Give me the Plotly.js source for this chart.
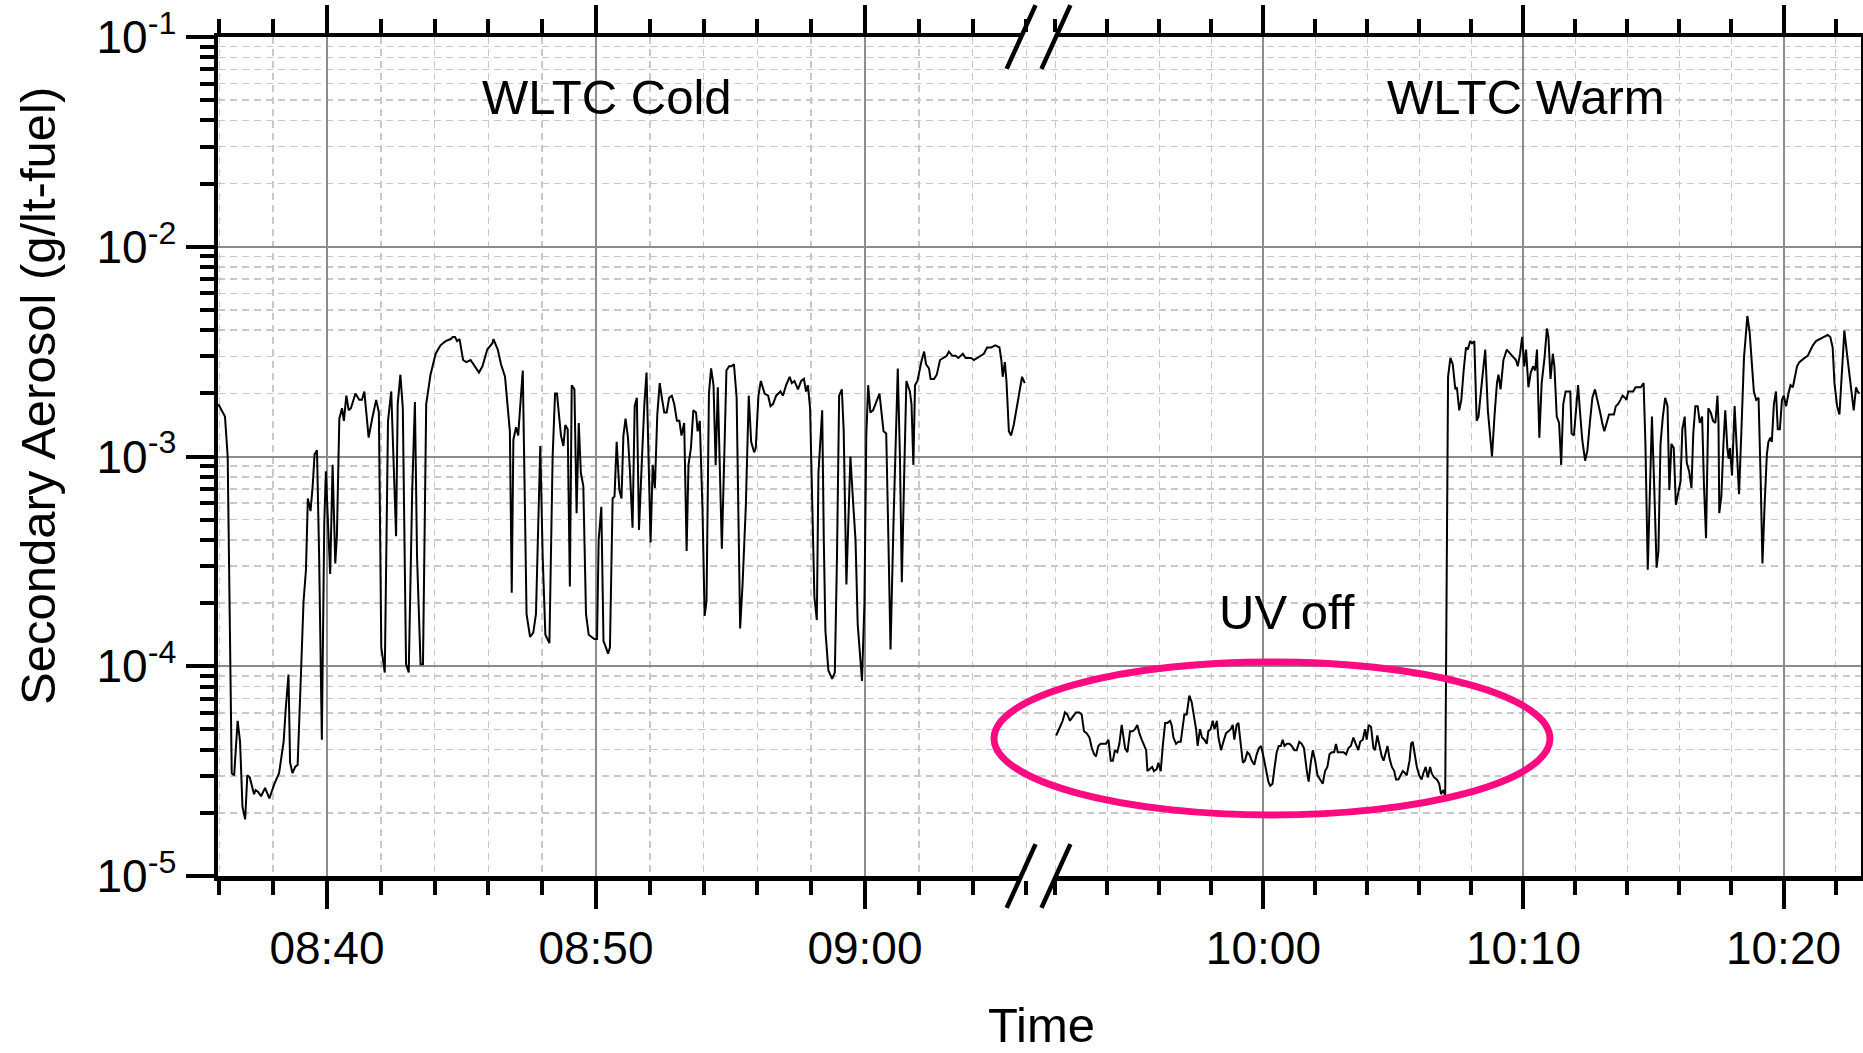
<!DOCTYPE html>
<html>
<head>
<meta charset="utf-8">
<script src="https://cdn.plot.ly/plotly-3.0.1.min.js"></script>
<style>
  html, body { margin: 0; padding: 0; background: #fff; overflow: hidden; }
</style>
</head>
<body>
<div id="myDiv" style="width:1863px;height:1053px;"></div>
<script>
  // time in minutes after 08:00, values as log10 of g/lt-fuel
  var coldTime = [
    35.96, 36.21, 36.31, 36.40, 36.46, 36.55, 36.68, 36.77, 36.86, 36.96,
    37.04, 37.13, 37.29, 37.35, 37.45, 37.55, 37.70, 37.86, 38.05, 38.22,
    38.39, 38.47, 38.57, 38.63, 38.72, 38.82, 38.91, 39.01, 39.13, 39.22,
    39.29, 39.39, 39.47, 39.54, 39.63, 39.71, 39.81, 39.90, 39.96, 40.04,
    40.12, 40.21, 40.31, 40.37, 40.46, 40.56, 40.63, 40.72, 40.81, 40.89,
    41.06, 41.20, 41.30, 41.39, 41.55, 41.68, 41.83, 41.93, 42.02, 42.15,
    42.27, 42.39, 42.47, 42.57, 42.63, 42.73, 42.82, 42.94, 43.04, 43.17,
    43.27, 43.35, 43.48, 43.57, 43.69, 43.85, 44.04, 44.22, 44.41, 44.60,
    44.68, 44.76, 44.84, 44.93, 45.06, 45.18, 45.34, 45.50, 45.65, 45.78,
    45.96, 46.15,
    46.19, 46.35, 46.47, 46.62, 46.72, 46.80, 46.87, 46.93, 47.03, 47.11,
    47.19, 47.28, 47.34, 47.42, 47.55, 47.67, 47.77, 47.85, 47.93, 48.02,
    48.12, 48.27, 48.39, 48.48, 48.55, 48.70, 48.79, 48.86, 48.95, 49.03,
    49.10, 49.20, 49.28, 49.36, 49.44, 49.53, 49.63, 49.73, 49.85, 49.94,
    50.04, 50.10, 50.20, 50.28, 50.37, 50.45, 50.52, 50.62, 50.69, 50.77,
    50.87, 50.95, 51.02, 51.10, 51.19, 51.26, 51.36, 51.44, 51.52, 51.60,
    51.71, 51.80, 51.88, 51.96, 52.03, 52.11, 52.19, 52.28, 52.37, 52.45,
    52.54, 52.63, 52.72, 52.82, 52.91, 53.01, 53.10, 53.18, 53.28, 53.37,
    53.44, 53.53, 53.62, 53.72, 53.78, 53.86, 53.96, 54.04, 54.11, 54.20,
    54.28, 54.37, 54.45, 54.53, 54.61, 54.68, 54.77, 54.85, 54.95, 55.04,
    55.13, 55.23, 55.30, 55.36, 55.45, 55.57, 55.68, 55.77, 55.88, 55.94,
    56.04, 56.13,
    56.27, 56.40, 56.49, 56.58, 56.70, 56.86, 56.95, 57.07, 57.20, 57.28,
    57.38, 57.51, 57.63, 57.73, 57.81, 57.88, 57.96, 58.04, 58.12, 58.21,
    58.27, 58.35, 58.41, 58.47, 58.53, 58.64, 58.78, 58.88, 58.96, 59.04,
    59.14, 59.21, 59.31, 59.38, 59.46, 59.56, 59.65, 59.73, 59.81, 59.89,
    59.98, 60.05, 60.12, 60.20, 60.30, 60.40, 60.54, 60.69, 60.79, 60.86,
    60.95, 61.06, 61.15, 61.22, 61.30, 61.37, 61.46, 61.54, 61.67, 61.73,
    61.80, 61.86, 61.95, 62.04, 62.11, 62.20, 62.27, 62.38, 62.44, 62.57,
    62.67, 62.79, 62.91, 63.04, 63.12, 63.25, 63.37, 63.47, 63.56, 63.64,
    63.74, 63.84, 63.95, 64.05, 64.17, 64.30, 64.42, 64.54, 64.69, 64.85,
    65.00, 65.07, 65.12, 65.20, 65.26, 65.35, 65.43, 65.53, 65.63, 65.73,
    65.84, 65.94
  ];
  var coldExp = [
    -2.75, -2.81, -3.00, -3.96, -4.51, -4.52, -4.26, -4.36, -4.67, -4.73,
    -4.52, -4.53, -4.61, -4.59, -4.60, -4.62, -4.58, -4.63, -4.56, -4.51,
    -4.36, -4.20, -4.04, -4.46, -4.51, -4.48, -4.47, -4.12, -3.69, -3.54,
    -3.20, -3.26, -3.14, -2.99, -2.97, -3.48, -4.35, -3.32, -3.07, -3.32,
    -3.56, -3.04, -3.51, -3.38, -2.82, -2.77, -2.83, -2.71, -2.78, -2.77,
    -2.70, -2.73, -2.73, -2.69, -2.91, -2.82, -2.73, -2.79, -3.91, -4.03,
    -2.83, -2.69, -3.00, -3.38, -2.75, -2.61, -2.77, -3.99, -4.03, -3.16,
    -2.74, -3.48, -3.99, -3.99, -2.75, -2.61, -2.51, -2.47, -2.45, -2.44,
    -2.43, -2.43, -2.45, -2.44, -2.54, -2.55, -2.54, -2.57, -2.60, -2.57,
    -2.49, -2.46,
    -2.44, -2.49, -2.56, -2.62, -2.75, -2.88, -3.65, -2.92, -2.86, -2.90,
    -2.75, -2.59, -3.08, -3.75, -3.86, -3.84, -3.75, -3.40, -2.95, -3.48,
    -3.85, -3.89, -3.00, -2.70, -2.70, -2.90, -2.95, -2.85, -2.87, -3.62,
    -2.66, -2.68, -3.27, -2.84, -3.08, -3.14, -3.75, -3.85, -3.86, -3.87,
    -3.87, -3.40, -3.24, -3.88, -3.91, -3.94, -3.91, -3.20, -3.19, -2.93,
    -3.16, -3.20, -2.90, -2.82, -2.91, -3.06, -3.34, -2.76, -2.72, -3.35,
    -3.01, -2.75, -2.60, -3.00, -3.41, -3.04, -3.15, -2.80, -2.65, -2.72,
    -2.79, -2.79, -2.72, -2.71, -2.75, -2.83, -2.83, -2.90, -2.84, -3.45,
    -3.04, -2.96, -2.78, -2.79, -2.88, -2.83, -3.25, -3.76, -3.69, -2.70,
    -2.58, -2.66, -3.04, -2.67, -3.08, -3.44, -3.00, -2.59, -2.57, -2.57,
    -2.56, -2.72, -3.32, -3.82, -3.61, -3.24, -2.71, -2.93, -2.98, -2.96,
    -2.71, -2.64,
    -2.70, -2.71, -2.76, -2.75, -2.71, -2.69, -2.71, -2.66, -2.62, -2.65,
    -2.64, -2.68, -2.64, -2.63, -2.69, -2.66, -2.77, -3.25, -3.67, -3.78,
    -3.08, -2.91, -2.78, -3.40, -3.83, -4.02, -4.06, -4.03, -3.48, -2.71,
    -2.68, -2.88, -3.61, -3.32, -3.00, -3.22, -3.40, -3.80, -3.96, -4.07,
    -3.70, -2.90, -2.66, -2.79, -2.78, -2.75, -2.70, -2.88, -2.89, -3.32,
    -3.92, -3.32, -2.91, -2.58, -3.00, -3.60, -3.08, -2.64, -2.69, -2.75,
    -3.04, -2.66, -2.64, -2.58, -2.54, -2.50, -2.56, -2.58, -2.63, -2.63,
    -2.61, -2.54, -2.53, -2.52, -2.50, -2.52, -2.52, -2.53, -2.52, -2.51,
    -2.53, -2.53, -2.53, -2.54, -2.53, -2.52, -2.51, -2.48, -2.48, -2.47,
    -2.48, -2.54, -2.62, -2.55, -2.64, -2.88, -2.90, -2.85, -2.77, -2.70,
    -2.62, -2.65
  ];

  var uvOffTime = [
    112.03, 112.12, 112.21, 112.28, 112.37, 112.46, 112.56, 112.67, 112.79, 112.92,
    113.01, 113.10, 113.21, 113.31, 113.40, 113.49, 113.56, 113.65, 113.74, 113.85,
    113.95, 114.04, 114.13, 114.21, 114.29, 114.38, 114.46, 114.55, 114.62, 114.68,
    114.77, 114.87, 114.97, 115.06, 115.15, 115.23, 115.32, 115.41, 115.49, 115.54,
    115.64, 115.72, 115.79, 115.90, 115.96, 116.05, 116.13, 116.22, 116.31, 116.41,
    116.47, 116.54, 116.64, 116.73, 116.82, 116.90, 116.96, 117.05, 117.15, 117.24,
    117.33, 117.41, 117.47, 117.56, 117.64, 117.73, 117.82, 117.88, 117.97, 118.05,
    118.12, 118.21, 118.27, 118.37, 118.46, 118.56, 118.65, 118.74, 118.82, 118.88,
    118.97, 119.04, 119.10, 119.21, 119.29, 119.38, 119.46, 119.55, 119.65, 119.74,
    119.83, 119.91, 120.00, 120.10, 120.19, 120.26, 120.35, 120.42, 120.51, 120.59,
    120.67, 120.74, 120.81, 120.90, 121.00, 121.09, 121.19, 121.28, 121.38, 121.47,
    121.56, 121.67, 121.74, 121.82, 121.90, 121.99, 122.08, 122.18, 122.28, 122.37,
    122.46, 122.54, 122.63, 122.72, 122.79, 122.86, 122.95, 123.08, 123.18, 123.27,
    123.36, 123.46, 123.55, 123.65, 123.72, 123.82, 123.91, 123.97, 124.05, 124.14,
    124.23, 124.29, 124.38, 124.46, 124.55, 124.62, 124.68, 124.77, 124.85, 124.94,
    125.03, 125.10, 125.19, 125.28, 125.36, 125.45, 125.51, 125.62, 125.68, 125.74,
    125.81, 125.90, 125.99, 126.08, 126.15, 126.24, 126.32, 126.41, 126.47, 126.56,
    126.67, 126.76, 126.83, 126.92, 126.99
  ];
  var uvOffExp = [
    -4.33, -4.30, -4.28, -4.26, -4.22, -4.23, -4.26, -4.24, -4.22, -4.22,
    -4.23, -4.31, -4.32, -4.34, -4.39, -4.42, -4.43, -4.38, -4.37, -4.37,
    -4.37, -4.35, -4.45, -4.45, -4.40, -4.41, -4.37, -4.28, -4.35, -4.39,
    -4.41, -4.31, -4.31, -4.30, -4.28, -4.32, -4.35, -4.38, -4.40, -4.50,
    -4.49, -4.48, -4.50, -4.49, -4.46, -4.50, -4.38, -4.27, -4.27, -4.26,
    -4.28, -4.34, -4.37, -4.36, -4.36, -4.29, -4.23, -4.23, -4.14, -4.17,
    -4.23, -4.30, -4.38, -4.30, -4.34, -4.35, -4.37, -4.31, -4.30, -4.26,
    -4.30, -4.26, -4.34, -4.40, -4.36, -4.32, -4.31, -4.30, -4.28, -4.35,
    -4.28, -4.27, -4.34, -4.46, -4.45, -4.41, -4.42, -4.45, -4.47, -4.42,
    -4.39, -4.38, -4.43, -4.49, -4.55, -4.57, -4.56, -4.49, -4.41, -4.38,
    -4.38, -4.35, -4.38, -4.37, -4.37, -4.38, -4.40, -4.40, -4.36, -4.37,
    -4.39, -4.50, -4.55, -4.46, -4.40, -4.45, -4.52, -4.54, -4.56, -4.50,
    -4.48, -4.42, -4.41, -4.41, -4.37, -4.41, -4.41, -4.41, -4.42, -4.39,
    -4.38, -4.34, -4.37, -4.40, -4.36, -4.35, -4.30, -4.35, -4.28, -4.29,
    -4.39, -4.40, -4.33, -4.38, -4.43, -4.45, -4.42, -4.38, -4.44, -4.48,
    -4.50, -4.54, -4.54, -4.52, -4.50, -4.51, -4.52, -4.45, -4.37, -4.36,
    -4.42, -4.48, -4.52, -4.54, -4.51, -4.48, -4.53, -4.48, -4.51, -4.53,
    -4.54, -4.56, -4.61, -4.59, -4.62
  ];

  var warmTime = [
    127.10, 127.19, 127.28, 127.38, 127.44, 127.53, 127.61, 127.70, 127.79, 127.86,
    127.95, 128.02, 128.11, 128.20, 128.27, 128.38, 128.47, 128.53, 128.63, 128.72,
    128.79, 128.89, 128.98, 129.04, 129.12, 129.23, 129.36, 129.49, 129.62, 129.71,
    129.78, 129.87, 129.95, 130.03, 130.10, 130.19, 130.28, 130.37, 130.45, 130.52,
    130.61, 130.70, 130.81, 130.90, 130.96, 131.04, 131.13, 131.19, 131.28, 131.37,
    131.45, 131.53, 131.62, 131.73, 131.80, 131.85, 131.94, 132.02, 132.10, 132.17,
    132.26, 132.37, 132.46, 132.56, 132.65, 132.75, 132.85, 132.95, 133.03, 133.11,
    133.20, 133.29, 133.39, 133.48, 133.55, 133.64, 133.73, 133.81, 133.90, 133.96,
    134.03, 134.13, 134.22, 134.31, 134.41, 134.51, 134.62, 134.69, 134.78, 134.86,
    134.94, 135.03, 135.12, 135.19, 135.27, 135.36, 135.45, 135.54, 135.61, 135.69,
    135.78, 135.86, 135.95, 136.04, 136.11, 136.20, 136.28, 136.37, 136.46, 136.53,
    136.61, 136.70, 136.78, 136.87, 136.94, 137.02, 137.11, 137.20, 137.29, 137.38,
    137.46,
    137.50, 137.53, 137.61, 137.69, 137.76, 137.84, 137.89, 137.94, 138.02, 138.12,
    138.21, 138.29, 138.38, 138.48, 138.61, 138.70, 138.79, 138.86, 138.95, 139.04,
    139.12, 139.19, 139.27, 139.36, 139.42, 139.49, 139.55, 139.63, 139.71, 139.78,
    139.86, 139.94, 140.01, 140.10, 140.19, 140.27, 140.36, 140.45, 140.52, 140.61,
    140.70, 140.81, 140.93, 141.04, 141.13, 141.25, 141.42, 141.55, 141.70, 141.80,
    141.89, 141.96, 142.06, 142.15, 142.24, 142.34, 142.44, 142.53, 142.62, 142.70,
    142.79, 142.85, 142.92
  ];
  var warmExp = [
    -2.62, -2.53, -2.56, -2.68, -2.67, -2.78, -2.73, -2.59, -2.48, -2.49,
    -2.45, -2.46, -2.45, -2.83, -2.81, -2.67, -2.55, -2.49, -2.78, -2.89,
    -3.00, -2.80, -2.65, -2.61, -2.68, -2.54, -2.49, -2.51, -2.53, -2.54,
    -2.57, -2.51, -2.43, -2.57, -2.49, -2.67, -2.60, -2.57, -2.59, -2.49,
    -2.91, -2.65, -2.53, -2.39, -2.43, -2.63, -2.51, -2.57, -2.81, -2.84,
    -3.04, -2.75, -2.69, -2.69, -2.69, -2.89, -2.90, -2.78, -2.66, -2.78,
    -2.92, -3.02, -2.97, -2.83, -2.72, -2.68, -2.73, -2.79, -2.84, -2.88,
    -2.84, -2.80, -2.80, -2.80, -2.76, -2.75, -2.73, -2.71, -2.72, -2.73,
    -2.69, -2.69, -2.69, -2.67, -2.67, -2.67, -2.65, -2.94, -3.54, -3.21,
    -2.81, -3.15, -3.53, -3.45, -2.94, -2.81, -2.72, -2.76, -3.16, -2.94,
    -2.96, -3.23, -3.18, -3.12, -2.87, -2.81, -3.03, -3.07, -3.15, -2.89,
    -2.76, -2.76, -2.84, -2.81, -3.13, -3.39, -2.77, -2.79, -2.83, -2.84,
    -2.71,
    -2.84, -3.27, -3.19, -2.94, -2.78, -2.96, -3.01, -2.96, -3.09, -2.76,
    -2.97, -3.18, -2.88, -2.53, -2.33, -2.41, -2.57, -2.69, -2.73, -2.72,
    -3.10, -3.51, -3.24, -2.99, -2.93, -2.91, -2.93, -2.75, -2.69, -2.87,
    -2.87, -2.73, -2.71, -2.76, -2.70, -2.66, -2.67, -2.61, -2.57, -2.55,
    -2.54, -2.53, -2.52, -2.49, -2.47, -2.45, -2.44, -2.43, -2.42, -2.43,
    -2.48, -2.65, -2.76, -2.80, -2.61, -2.40, -2.51, -2.61, -2.69, -2.78,
    -2.67, -2.69, -2.70
  ];

  var leftTicks = [40, 50, 60];
  var leftLabels = ['08:40', '08:50', '09:00'];
  var rightTicks = [120, 130, 140];
  var rightLabels = ['10:00', '10:10', '10:20'];
  var decadeTicks = [1e-5, 1e-4, 1e-3, 1e-2, 1e-1];
  var decadeLabels = ['10<sup>-5</sup>', '10<sup>-4</sup>', '10<sup>-3</sup>', '10<sup>-2</sup>', '10<sup>-1</sup>'];

  var toValue = function (e) { return Math.pow(10, e); };

  var cold = {
    x: coldTime,
    y: coldExp.map(toValue),
    xaxis: 'x', yaxis: 'y',
    mode: 'lines',
    line: { color: '#000', width: 2 },
    name: 'WLTC Cold'
  };
  var warm = {
    x: uvOffTime.concat(warmTime),
    y: uvOffExp.concat(warmExp).map(toValue),
    xaxis: 'x2', yaxis: 'y2',
    mode: 'lines',
    line: { color: '#000', width: 2 },
    name: 'WLTC Warm'
  };

  var FONT = 'Liberation Sans, Arial, Helvetica, sans-serif';

  function timeAxis(domain, range, ticks, labels, anchor) {
    return {
      domain: domain, range: range, anchor: anchor,
      tickmode: 'array', tickvals: ticks, ticktext: labels,
      ticks: 'outside', ticklen: 28, tickwidth: 4, tickcolor: '#000',
      showline: true, linewidth: 4.5, linecolor: '#000', mirror: 'ticks',
      showgrid: true, gridcolor: '#8c8c8c', gridwidth: 2,
      zeroline: false,
      tickfont: { family: FONT, size: 46, color: '#000' },
      minor: {
        tickmode: 'linear', tick0: 0, dtick: 2,
        ticks: 'outside', ticklen: 14, tickwidth: 4, tickcolor: '#000',
        showgrid: true, gridcolor: '#c8c8c8', gridwidth: 1.5, griddash: '7px,5px'
      }
    };
  }

  function logAxis(anchor, side, labels) {
    return {
      type: 'log', range: [-5, -1], anchor: anchor, side: side,
      tickmode: 'array', tickvals: decadeTicks, ticktext: decadeLabels,
      showticklabels: labels,
      ticks: 'outside', ticklen: 28, tickwidth: 4, tickcolor: '#000',
      showline: true, linewidth: 4.5, linecolor: '#000', mirror: false,
      showgrid: true, gridcolor: '#8c8c8c', gridwidth: 2,
      zeroline: false,
      tickfont: { family: FONT, size: 46, color: '#000' },
      minor: {
        tickmode: 'linear', dtick: 'D1',
        ticks: 'outside', ticklen: 14, tickwidth: 4, tickcolor: '#000',
        showgrid: true, gridcolor: '#c8c8c8', gridwidth: 1.5, griddash: '7px,5px'
      }
    };
  }

  var SPLIT = 0.4997;
  var pink = '#ff0a80';

  var slash = function (xc, yc) {
    return {
      type: 'line', xref: 'paper', yref: 'paper',
      x0: xc - 0.0088, x1: xc + 0.0088, y0: yc - 0.038, y1: yc + 0.038,
      line: { color: '#000', width: 4.5 }
    };
  };
  var gap = function (yc) {
    return {
      type: 'line', xref: 'paper', yref: 'paper',
      x0: 0.4888, x1: 0.5100, y0: yc, y1: yc,
      line: { color: '#fff', width: 10 }
    };
  };

  var label = function (text, x, y, angle) {
    return {
      text: text, xref: 'paper', yref: 'paper', x: x, y: y,
      xanchor: 'center', yanchor: 'middle', textangle: angle || 0,
      showarrow: false, font: { family: FONT, size: 49, color: '#000' }
    };
  };

  var layout = {
    width: 1863, height: 1053,
    margin: { l: 218, r: 2, t: 37, b: 177 },
    paper_bgcolor: '#fff', plot_bgcolor: '#fff',
    showlegend: false,
    hovermode: false,
    font: { family: FONT, size: 46, color: '#000' },
    xaxis: timeAxis([0, SPLIT], [35.95, 66.47], leftTicks, leftLabels, 'y'),
    xaxis2: timeAxis([SPLIT, 1], [111.37, 142.98], rightTicks, rightLabels, 'y2'),
    yaxis: logAxis('x', 'left', true),
    yaxis2: logAxis('x2', 'right', false),
    shapes: [
      { type: 'circle', xref: 'paper', yref: 'paper',
        x0: 0.4723, x1: 0.8107, y0: 0.0727, y1: 0.2551,
        line: { color: pink, width: 7 } },
      gap(0), gap(1),
      slash(0.4888, 0), slash(0.5100, 0),
      slash(0.4888, 1), slash(0.5100, 1)
    ],
    annotations: [
      label('WLTC Cold', 0.2368, 0.928),
      label('WLTC Warm', 0.7964, 0.928),
      label('UV off', 0.6506, 0.315),
      label('Time', 0.5015, -0.177),
      label('Secondary Aerosol (g/lt-fuel)', -0.1096, 0.572, -90)
    ]
  };

  Plotly.newPlot('myDiv', [cold, warm], layout, { displayModeBar: false, staticPlot: true });
</script>
</body>
</html>
